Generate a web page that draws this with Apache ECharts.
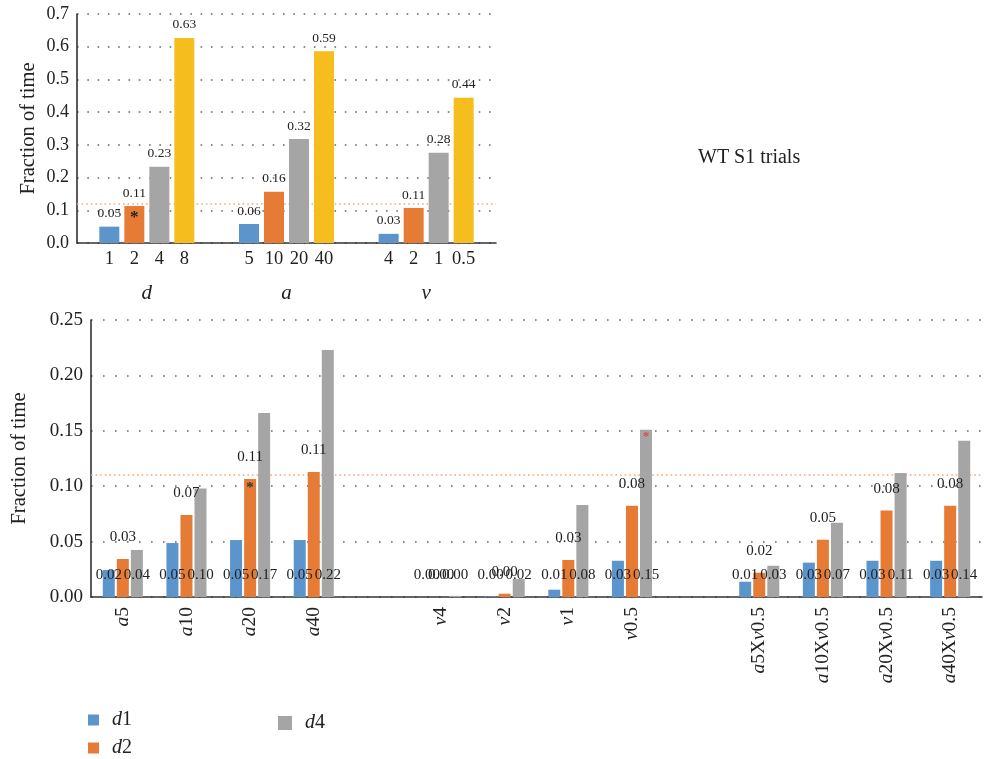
<!DOCTYPE html>
<html>
<head>
<meta charset="utf-8">
<script src="https://cdn.jsdelivr.net/npm/echarts@6/dist/echarts.min.js"></script>
<style>
  html, body { margin: 0; padding: 0; background: #fff; }
  #chart { width: 985px; height: 759px; }
</style>
</head>
<body>
<div id="chart"></div>
<script>
// ---- Upper panel: single-parameter sweeps ----
const topGroups = ['d', 'a', 'v'];
const topSeriesNames = ['rank1', 'rank2', 'rank3', 'rank4'];
// per rank: value in groups d, a, v
const topRank1 = [0.05, 0.058, 0.028];
const topRank2 = [0.113, 0.157, 0.107];
const topRank3 = [0.233, 0.318, 0.276];
const topRank4 = [0.627, 0.586, 0.444];
// per rank: parameter level written under each bar
const topTick1 = ['1', '5', '4'];
const topTick2 = ['2', '10', '2'];
const topTick3 = ['4', '20', '1'];
const topTick4 = ['8', '40', '0.5'];
const topYTicks = [0, 0.1, 0.2, 0.3, 0.4, 0.5, 0.6, 0.7];
const topThreshold = 0.116;
const topTitle = 'WT S1 trials';

// ---- Lower panel: combined conditions ----
const lowCategories = ['a5', 'a10', 'a20', 'a40', '', 'v4', 'v2', 'v1', 'v0.5', ' ',
  'a5Xv0.5', 'a10Xv0.5', 'a20Xv0.5', 'a40Xv0.5'];
const lowD1 = [0.0244, 0.0487, 0.0514, 0.0514, '-', 0, 0.0006, 0.0066, 0.0327, '-', 0.0138, 0.031, 0.0327, 0.0327];
const lowD2 = [0.0343, 0.074, 0.1065, 0.1128, '-', 0, 0.003, 0.0334, 0.0823, '-', 0.0219, 0.0517, 0.078, 0.0823];
const lowD4 = [0.0424, 0.098, 0.166, 0.223, '-', 0.001, 0.0162, 0.083, 0.151, '-', 0.0282, 0.067, 0.112, 0.141];
const lowSeriesNames = ['d1', 'd2', 'd4'];
const lowYTicks = [0, 0.05, 0.10, 0.15, 0.20, 0.25];
const lowThreshold = 0.111;

const serif = 'Liberation Serif';
const ink = '#222';
const colors = ['#5b95cc', '#e67b35', '#a5a5a5', '#f6bd1f'];

const topValues = [topRank1, topRank2, topRank3, topRank4];
const topTicks = [topTick1, topTick2, topTick3, topTick4];
const lowValues = [lowD1, lowD2, lowD4];

const dotted = (gap) => ({ color: '#666', width: 1.6, type: [1.6, gap] });
const fmt2 = (p) => Number(p.value).toFixed(2);
// dotted reference level, kept underneath the bars
const thresholdLine = (y) => ({
  silent: true, symbol: 'none', z: 1, label: { show: false },
  lineStyle: { color: '#f2a878', width: 1.6, type: [1.6, 3] },
  data: [{ yAxis: y }]
});
const star = (value, cat, color, size, dy) => ({
  coord: [cat, value],
  symbol: 'circle', symbolSize: 1,
  itemStyle: { color: 'rgba(0,0,0,0)' },
  label: { show: true, formatter: '*', position: 'inside', offset: [0, dy],
           color: color, fontSize: size, fontFamily: serif, fontWeight: 'bold' }
});

const series = [];

// upper panel: a zero-height base in each stack carries the level label
topValues.forEach((vals, i) => {
  series.push({
    name: 'tick' + i, type: 'bar', xAxisIndex: 0, yAxisIndex: 0,
    stack: 'top' + i, barWidth: 20, barGap: '25%',
    data: vals.map(() => 0),
    itemStyle: { color: colors[i] },
    label: { show: true, position: 'bottom', distance: 7,
             formatter: (p) => topTicks[i][p.dataIndex],
             color: ink, fontSize: 18.5, fontFamily: serif }
  });
  series.push({
    name: topSeriesNames[i], type: 'bar', xAxisIndex: 0, yAxisIndex: 0,
    stack: 'top' + i, barWidth: 20, barGap: '25%',
    data: vals,
    itemStyle: { color: colors[i] },
    label: { show: true, position: 'top', distance: 6, formatter: fmt2,
             color: ink, fontSize: 13.5, fontFamily: serif },
    markPoint: i === 1 ? { data: [star(vals[0], 0, ink, 17, 12)] } : undefined
  });
});

// lower panel
lowValues.forEach((vals, i) => {
  const isMid = i === 1;
  const marks = [];
  if (i === 1) marks.push(star(vals[2], 2, '#333', 15, 9));
  if (i === 2) marks.push(star(vals[8], 8, '#e0474c', 13, 7));
  series.push({
    name: lowSeriesNames[i], type: 'bar', xAxisIndex: 1, yAxisIndex: 1,
    barWidth: 12, barGap: '17%',
    data: vals,
    itemStyle: { color: colors[i] },
    label: { show: true, position: isMid ? 'top' : 'insideBottom', distance: 14,
             formatter: fmt2, color: ink, fontSize: 15, fontFamily: serif },
    markPoint: marks.length ? { data: marks } : undefined
  });
});

// empty line series that only carry the reference levels
series.push({ name: 'refTop', type: 'line', xAxisIndex: 0, yAxisIndex: 0, data: [],
              markLine: thresholdLine(topThreshold) });
series.push({ name: 'refLow', type: 'line', xAxisIndex: 1, yAxisIndex: 1, data: [],
              markLine: thresholdLine(lowThreshold) });

const legendItem = (name, left, top, size) => ({
  data: [name], left: left, top: top,
  icon: 'rect', itemWidth: size, itemHeight: size,
  formatter: (n) => '{i|' + n[0] + '}{n|' + n.slice(1) + '}',
  textStyle: { fontSize: 20, color: ink, fontFamily: serif,
    rich: { i: { fontStyle: 'italic', fontSize: 20, padding: [0, 0, 0, 8] }, n: { fontSize: 20 } } }
});

const option = {
  animation: false,
  backgroundColor: '#fff',
  textStyle: { fontFamily: serif },
  title: {
    text: topTitle, left: 693, top: 143,
    textStyle: { fontFamily: serif, fontWeight: 'normal', fontSize: 20, color: ink }
  },
  legend: [
    legendItem('d1', 83, 705, 11),
    legendItem('d2', 83, 733, 11),
    legendItem('d4', 273, 708, 14)
  ],
  grid: [
    { left: 77, right: 489, top: 14, bottom: 516 },
    { left: 91, right: 3, top: 320, bottom: 162 }
  ],
  xAxis: [
    {
      type: 'category', gridIndex: 0, data: topGroups,
      axisLine: { lineStyle: { color: '#333', width: 1.6 } },
      axisTick: { show: false },
      axisLabel: { margin: 40, fontSize: 21, fontStyle: 'italic', fontFamily: serif, color: ink }
    },
    {
      type: 'category', gridIndex: 1, data: lowCategories,
      axisLine: { lineStyle: { color: '#333', width: 1.6 } },
      axisTick: { show: false },
      axisLabel: {
        interval: 0, rotate: 90, margin: 10, fontSize: 19.5, fontFamily: serif, color: ink,
        formatter: (s) => s.replace(/([av])/g, '{i|$1}'),
        rich: { i: { fontStyle: 'italic', fontSize: 19.5, fontFamily: serif, color: ink } }
      }
    }
  ],
  yAxis: [
    {
      type: 'value', gridIndex: 0, min: topYTicks[0], max: topYTicks[topYTicks.length - 1], interval: 0.1,
      name: 'Fraction of time', nameLocation: 'middle', nameGap: 38,
      nameTextStyle: { fontSize: 20.5, fontFamily: serif, color: ink },
      axisLine: { show: true, lineStyle: { color: '#333', width: 1.6 } },
      axisTick: { show: false },
      axisLabel: { fontSize: 18, fontFamily: serif, color: ink, margin: 8,
                   formatter: (v) => v.toFixed(1) },
      splitLine: { lineStyle: dotted(8.7) }
    },
    {
      type: 'value', gridIndex: 1, min: lowYTicks[0], max: lowYTicks[lowYTicks.length - 1], interval: 0.05,
      name: 'Fraction of time', nameLocation: 'middle', nameGap: 61,
      nameTextStyle: { fontSize: 20.5, fontFamily: serif, color: ink },
      axisLine: { show: true, lineStyle: { color: '#333', width: 1.6 } },
      axisTick: { show: false },
      axisLabel: { fontSize: 19, fontFamily: serif, color: ink, margin: 8,
                   formatter: (v) => v.toFixed(2) },
      splitLine: { lineStyle: dotted(10.4) }
    }
  ],
  series: series
};

const chart = echarts.init(document.getElementById('chart'), null, { renderer: 'canvas' });
chart.setOption(option);
</script>
</body>
</html>
